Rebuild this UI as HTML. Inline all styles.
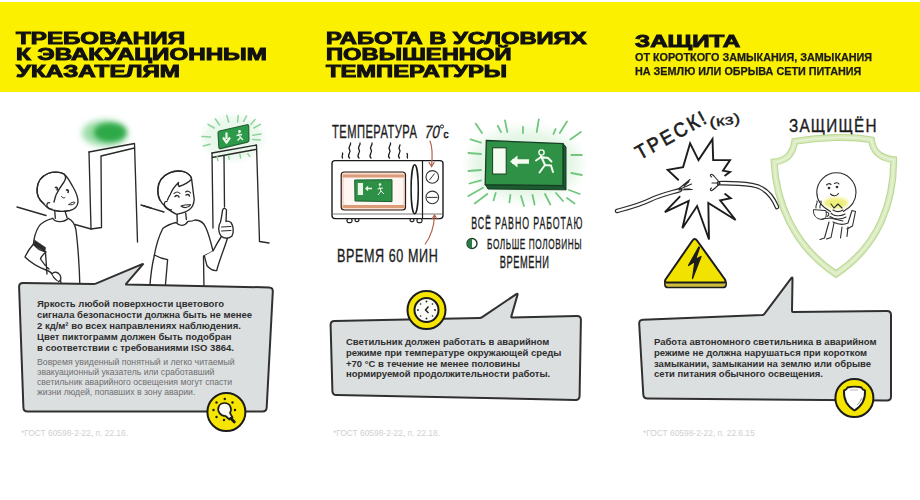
<!DOCTYPE html>
<html><head><meta charset="utf-8">
<style>
html,body{margin:0;padding:0;}
body{width:920px;height:500px;overflow:hidden;background:#fff;position:relative;font-family:"Liberation Sans",sans-serif;}
.yb{position:absolute;left:0;top:2px;width:920px;height:90px;background:#fbf000;}
.h{position:absolute;font-weight:bold;color:#111;-webkit-text-stroke:0.95px #111;white-space:nowrap;transform-origin:0 0;}
.h div{height:16.8px;line-height:16.8px;}
.sub{position:absolute;font-weight:bold;color:#1a1a1a;-webkit-text-stroke:0.25px #1a1a1a;white-space:nowrap;transform-origin:0 0;font-size:10px;}
.t{position:absolute;white-space:nowrap;transform-origin:0 0;}
.b{font-weight:bold;color:#2e2e2e;}
.g{color:#6e6e6e;}
.fn{position:absolute;white-space:nowrap;color:#d0d0d0;font-size:8.4px;}
svg{position:absolute;left:0;top:0;}
</style></head><body>
<div class="yb"></div>
<div class="h" id="h1" style="left:16px;top:30.5px;font-size:16.8px;transform:scaleX(1.44)"><div>ТРЕБОВАНИЯ</div><div>К ЭВАКУАЦИОННЫМ</div><div>УКАЗАТЕЛЯМ</div></div>
<div class="h" id="h2" style="left:326px;top:30.5px;font-size:16.8px;transform:scaleX(1.415)"><div>РАБОТА В УСЛОВИЯХ</div><div>ПОВЫШЕННОЙ</div><div>ТЕМПЕРАТУРЫ</div></div>
<div class="h" id="h3" style="left:635px;top:33.5px;font-size:16.8px;transform:scaleX(1.44)"><div>ЗАЩИТА</div></div>
<div class="sub" id="s3" style="left:635px;top:51px;line-height:13.5px;transform:scaleX(1.08)"><div>ОТ КОРОТКОГО ЗАМЫКАНИЯ, ЗАМЫКАНИЯ</div><div>НА ЗЕМЛЮ ИЛИ ОБРЫВА СЕТИ ПИТАНИЯ</div></div>

<svg width="920" height="500" viewBox="0 0 920 500" style="position:absolute;left:0;top:0">
<defs>
<filter id="bl1" x="-50%" y="-50%" width="200%" height="200%"><feGaussianBlur stdDeviation="3"/></filter>
<filter id="bl2" x="-50%" y="-50%" width="200%" height="200%"><feGaussianBlur stdDeviation="2.4"/></filter>
</defs>
<!-- PANEL 1 -->
<ellipse cx="105" cy="133" rx="23" ry="13" fill="#9adba5" filter="url(#bl1)"/>
<ellipse cx="110" cy="132.5" rx="16" ry="9.5" fill="#2fa94a" filter="url(#bl2)"/>
<g fill="none" stroke="#2a2a2a" stroke-width="1.35" stroke-linecap="round" stroke-linejoin="round">
<!-- door 1 -->
<path d="M89,152 L134.5,143.5 L137.5,242"/>
<path d="M89,152 L91,229 L101.5,227.5 L101,156 L134.5,148"/>
<path d="M17,207 L46,215.5"/>
<path d="M75,224.5 L91,229"/>
<path d="M141,205 L151,208"/>
</g>
<g fill="#fff" stroke="#2a2a2a" stroke-width="1.35" stroke-linecap="round" stroke-linejoin="round">
<!-- boy 1 body -->
<path d="M52.7,218.3 C46,220 41,222.5 38.5,227 C35.5,232 34,238 33.5,244 C30,248 27,252 25,257 C30,262 38,267 46,270 C49,271 51,272 52,274 C54,279 58,282 60.5,280 L62,290 L80,290 C79.5,270 78.5,250 76,230 C75,224 72,220 68.3,218.3 C64,223 55,222.5 52.7,218.3 Z"/>
<path d="M33.5,244 C36,248 41,251 46,252 M46,252 C43,254.5 41,257 40.5,259 C43,263 46,266.5 49,269 M45.5,253 L47,274" fill="none"/>
<path d="M34.5,240 L45.5,247.5 L45,252 L33.5,245 Z" fill="#2a2a2a" stroke-width="0.6"/>
<path d="M52,274 C54,271 58,272 60,275 C61.5,278 61,281 58.5,281.5" fill="#fff"/>
<!-- boy1 head -->
<path d="M54.7,210.5 C50,210 46,207 44,204 C39,200 36.5,195 37.1,189 C37.5,181 42,176 48,173.5 C53,171.5 60,171.5 64,174 C68,177 70,182 73,187 C76,192 78,197 78,202 C77.5,207 74,209.5 70,210.5 C65,211.5 59,211.5 54.7,210.5 Z"/>
<path d="M44,204 C39,200 36.5,195 37.1,189 C37.5,181 42,176 48,173.5 C53,171.5 60,171.5 64,174 C66,176 66,179 64,182 C61,186 58,191 56,195 C55,198 54.5,200 54,202" fill="none"/>
<path d="M49.5,202.7 C46.5,202.5 46,206 48,207.5 C49.5,209 51,209.5 52.1,209.2" fill="none"/>
<path d="M55.5,187.5 C57,187 58,188.5 57,190 M66.5,190 C68,189.5 69,191 68,192.5" fill="none" stroke-width="1.5"/>
<path d="M61.5,196.5 C62.5,198 64,198.5 65,197.5" fill="none" stroke-width="1"/>
<path d="M69,204.5 C71,202.5 73.5,201.5 75,202.5 C74,204.5 71.5,205.5 69,204.5 Z" fill="none" stroke-width="1"/>
<path d="M54.7,210.5 L55.3,218.3 M65,211.1 L67,217.5" fill="none"/>
<!-- boy 2 body -->
<path d="M176,222.5 C170,224 166,226 162.8,228.5 C159,236 156,246 154.4,255 C158,257 163,259 167.6,259.7 L165,290 L204,290 L203.5,256 C208,254 211,252.5 213,251 C211,243 209.5,236 206,228 C204,223 201,220 195,220 C193,221 190,221.5 188,221.4 C185,226 180,227 176,222.5 Z"/>
<path d="M154.4,255 C152,265 150.5,275 149.6,290" fill="none"/>
<path d="M213,251 C216,245 219,240 222.7,234.5 L227.5,238 C225,247 220,258 216.7,270.5 C213,271 209,268 207,265.7 C206,262 205,259 204.5,256" />
<path d="M220.5,222 C218,226 218,232 221,236 C224,239 229,239 232,236 C234,232 233.5,226 231,222.5 C229,221 227,221 226,221.5 L226.5,210 C225,207.5 223,208 222.5,210.5 C222,214 221.5,218 220.5,222 Z"/>
<path d="M221.5,227 L231,226.5 M221.5,231 L231,230.5" fill="none" stroke-width="1"/>
<!-- boy2 head -->
<path d="M176.6,214.4 C172,212 168,210 165,206 C161,203 158,197 157.8,189.7 C158,182 162,176 169.5,172.8 C175,170.5 182,170.5 186,172.5 C189.5,174.5 191.5,177 191.6,179.3 C192.5,185 193,191 194.2,199 C194,203 193,207 189.5,209.5 C186,212 181,213.5 176.6,214.4 Z"/>
<path d="M159.7,200 C158,197 157.8,193 157.8,189.7 C158,182 162,176 169.5,172.8 C175,170.5 182,170.5 186,172.5 C189.5,174.5 191.5,177 191.6,179.3 C188,183 184,185 179,186.5 C178,185 178,184 178.5,182.5 C175,186 172,190 170.5,194 C169,196.5 168,198.5 167.5,200" fill="none"/>
<path d="M166.9,201.4 C164,201 163.5,205 165.5,207.5 C167,209 169.5,210 171.4,209.8" fill="none"/>
<path d="M174,193.5 C176,191.8 178.5,191.8 180,193.5 M185.5,192 C187.5,190.5 189.5,191 190.5,193" fill="none" stroke-width="1.1"/>
<path d="M175,196.5 C176.5,195 178.5,195.5 179,197 M186,195 C187.5,194 189,194.5 189.5,196" fill="none" stroke-width="1.5"/>
<path d="M181,206 C184,208.5 188,208 190.5,204.8 C187.5,204.5 184,205 181,206 Z" fill="#fff" stroke-width="1.1"/>
<path d="M177,214.3 L177.3,222 M185.7,213 L186.4,219.5" fill="none"/>
<path d="M143.6,205.8 L164,212" fill="none"/>
</g>

<!-- exit sign small -->
<ellipse cx="233" cy="138" rx="30" ry="22" fill="#d9f2dc" filter="url(#bl1)" opacity="0.55"/>
<g fill="none" stroke="#2a2a2a" stroke-width="1.35" stroke-linecap="round" stroke-linejoin="round">
<!-- door 2 -->
<path d="M212,153 L256.5,145 L259.5,241.5 L269,243"/>
<path d="M212,153 L213,228 M212,157.5 L255.5,149.5 M224,156 L224.5,207"/>
</g>
<g stroke="#8ed49a" stroke-width="1.5" stroke-linecap="round">
<path d="M202,136.4 L210.6,137 M203.4,146 L210,144.2 M208,124.4 L214.2,128 M215.4,119 L219.6,125 M226.8,115.4 L228.6,122 M238.2,115.4 L237.6,122 M246.6,116 L243.6,121.4 M255,119.6 L250.8,124.4 M260.4,124.4 L253.8,128 M261,134 L252.6,135.2 M260.4,140 L252.6,139.4 M217.2,156.8 L217.8,160.4 M228.6,155.6 L229.2,159.2 M240,154.4 L240.6,158 M247.8,153.8 L249.6,156.2"/>
</g>
<path d="M219.5,131 L247,124.7 Q248.6,124.4 248.7,126 L249,140.3 Q249,141.8 247.5,142.1 L220.5,148.6 Q219,149 218.9,147.5 L218,133 Q217.9,131.4 219.5,131 Z" fill="#2d9a49" stroke="#1f5f31" stroke-width="1.1"/>
<path d="M226.5,132.5 L226.5,139 M223,137.5 L226.5,142.5 L230,137.5" stroke="#eef8ee" stroke-width="2.2" fill="none" stroke-linejoin="round"/>
<circle cx="239.5" cy="131.5" r="1.4" fill="#eef8ee"/>
<path d="M238.5,133.5 L240.5,137.5 L237.5,140.5 M240.5,137.5 L243,140 M236.5,135.5 L242,134.5" stroke="#eef8ee" stroke-width="1.3" fill="none"/>
</svg>
<svg width="920" height="500" viewBox="0 0 920 500" style="position:absolute;left:0;top:0">
<g font-family="Liberation Sans" fill="#1c1c1c" stroke="#1c1c1c" stroke-width="0.35">
<text transform="translate(332,137.5) scale(0.62,1)" font-size="18" textLength="137" lengthAdjust="spacing">ТЕМПЕРАТУРА</text>
<text transform="translate(424,137.5) skewX(-10) scale(0.62,1)" font-size="18" textLength="24" lengthAdjust="spacingAndGlyphs">70</text>
<text transform="translate(337,262.2) scale(0.7,1)" font-size="18" textLength="144" lengthAdjust="spacing">ВРЕМЯ 60 МИН</text>
<text transform="translate(471.2,228.5) scale(0.55,1)" font-size="16" textLength="202" lengthAdjust="spacing">ВСЁ РАВНО РАБОТАЮ</text>
<text transform="translate(487,248.7) scale(0.55,1)" font-size="15" textLength="172" lengthAdjust="spacing">БОЛЬШЕ ПОЛОВИНЫ</text>
<text transform="translate(499.7,267.5) scale(0.58,1)" font-size="16" textLength="85" lengthAdjust="spacing">ВРЕМЕНИ</text>
</g>
<text x="443.5" y="137.5" font-family="Liberation Sans" font-size="10" fill="#1c1c1c" stroke="#1c1c1c" stroke-width="0.5">c</text>
<circle cx="442" cy="126.5" r="1.6" fill="none" stroke="#1c1c1c" stroke-width="1"/>
<!-- half circle -->
<circle cx="472" cy="243.5" r="5" fill="#fff" stroke="#1c3a25" stroke-width="1.4"/>
<path d="M472,238.5 A5,5 0 0 0 472,248.5 Z" fill="#2b7a45"/>
<!-- steam -->
<g fill="none" stroke="#1c1c1c" stroke-width="1.3" stroke-linecap="round">
<path d="M342.5,158 C341,156 343.5,155 342.5,153"/>
<path d="M349.5,158 C346,155 352,152.5 349.5,149.5 C347.5,147 351.5,145 350.5,143"/>
<path d="M359,158 C355.5,155 361.5,152.5 359,149.5 C357,147 361,145 360,143"/>
<path d="M371,158 C367.5,155 373.5,152.5 371,149.5 C369,147 373,145 372,143"/>
<path d="M389.5,158 C386,155 392,152.5 389.5,149.5 C387.5,147 391.5,145 390.5,143"/>
<path d="M399.5,158 C396,155 402,152.5 399.5,149.5 C398,147.5 400,146 400,145"/>
<path d="M407.5,158 C406.5,156 408.5,155 407,153.5"/>
</g>
<!-- microwave -->
<rect x="332" y="160.6" width="111" height="58" rx="3" fill="#fff" stroke="#1c1c1c" stroke-width="1.4"/>
<path d="M333,214 L442,214" stroke="#555" stroke-width="0.8"/>
<path d="M422.5,161 L422.5,218" stroke="#1c1c1c" stroke-width="1.2"/>
<g fill="#fff" stroke="#1c1c1c" stroke-width="1.2">
<rect x="347" y="218.6" width="5" height="4" rx="1.5"/><rect x="355" y="218.6" width="4" height="3" rx="1.5"/>
<rect x="410" y="218.6" width="4" height="3" rx="1.5"/><rect x="417" y="218.6" width="5" height="4" rx="1.5"/>
</g>
<rect x="341.2" y="172" width="64.3" height="38" rx="3" fill="#f6ddd0" stroke="#2a1a14" stroke-width="1.2"/>
<rect x="344" y="177" width="59" height="28" rx="2" fill="#fdf6f2" stroke="none"/>
<path d="M344,176 L403,176 M344,206.5 L403,206.5" stroke="#dd9c78" stroke-width="3.2" stroke-linecap="round"/>
<polygon points="354.7,180 392,179.7 392,201.6 355,201" fill="#2e8f47" stroke="#1d5f30" stroke-width="1"/>
<rect x="357.8" y="183" width="5.2" height="12" fill="#e9f6e6"/>
<path d="M366,188.5 L372,188.5 M368,186.5 L366,188.5 L368,190.5" stroke="#e9f6e6" stroke-width="1.3" fill="none"/>
<circle cx="380" cy="184.5" r="1.3" fill="#e9f6e6"/>
<path d="M379.5,186.5 L381,191 L378,195 M381,191 L384,194 M377.5,189 L383,188" stroke="#e9f6e6" stroke-width="1" fill="none"/>
<ellipse cx="414.7" cy="189.2" rx="3.6" ry="24.5" fill="#fff" stroke="#1c1c1c" stroke-width="1.5"/>
<g fill="#fff" stroke="#333" stroke-width="1.1">
<circle cx="432.3" cy="176.9" r="6.3"/><circle cx="432.3" cy="197.4" r="6.3"/>
</g>
<path d="M429.5,180 L434.5,173.5 M427,197.4 L437.5,197.4" stroke="#333" stroke-width="1"/>
<!-- arrows -->
<g fill="none" stroke="#b3624d" stroke-width="1.2" stroke-linecap="round">
<path d="M430,141 C433,148 432.5,156 431.6,166"/>
<path d="M429,162.5 L431.6,166.5 L434,162.5"/>
<path d="M425.3,244 C431,236 434,226 434.5,216"/>
<path d="M432,219 L434.5,215 L437,219"/>
</g>
<!-- big exit sign glow -->
<defs><filter id="bl4" x="-50%" y="-50%" width="200%" height="200%"><feGaussianBlur stdDeviation="6"/></filter></defs>
<ellipse cx="525" cy="164" rx="55" ry="35" fill="#e3f5e4" filter="url(#bl4)"/>
<g stroke="#72c77f" stroke-width="1.8" stroke-linecap="round">
<path d="M475.8,123.7 L482,133 M497.8,125.8 L501,132 M505,120.5 L507.3,132 M523,126.8 L523,133 M538.8,119.5 L536.7,132 M555.6,129 L553.5,134 M567,121.5 L559.8,133 M580.8,132 L570.3,139.4 M470.5,139.4 L481,142.6 M468.4,153 L481,154 M468.4,171 L481,170 M469.5,183.5 L481,180.4 M468.4,196 L483,187.7 M474.7,203.5 L487.3,194 M571.3,155 L581.8,155 M571.3,173 L581.8,175 M569,190 L579.7,194 M567,198 L574.5,203.5 M495.7,193 L493.6,200.3 M510.4,195 L509.4,202.4 M532.5,195 L534.6,204.5 M545,194 L550.3,204.5 M521,196 L524,206 M556,193 L563,201"/>
</g>
<polygon points="485.2,184.6 563,185.6 566,189.8 488,189" fill="#1c5a30" stroke="#163f24" stroke-width="1"/>
<polygon points="563,143.6 566,147 566,189.8 563,185.6" fill="#1c5a30" stroke="#163f24" stroke-width="1"/>
<polygon points="486.3,140.5 563,143.6 563,185.6 485.2,184.6" fill="#2e9146" stroke="#163f24" stroke-width="1.3"/>
<rect x="492.6" y="147.8" width="13.6" height="26.2" fill="#f4fbf1" stroke="#163f24" stroke-width="1"/>
<path d="M512,161.5 L529,161.5" stroke="#f4fbf1" stroke-width="4.5"/>
<polygon points="510,161.5 517.5,155.5 517.5,167.5" fill="#f4fbf1"/>
<circle cx="541.5" cy="152.5" r="2.6" fill="none" stroke="#f4fbf1" stroke-width="1.4"/>
<path d="M541,156 L545,165 L539.5,172.5 M545,165 L551,165.5 L553,172 M536,160.5 L541,157 L548,158 L551.5,161.5" fill="none" stroke="#f4fbf1" stroke-width="2" stroke-linejoin="round" stroke-linecap="round"/>
</svg>
<svg width="920" height="500" viewBox="0 0 920 500" style="position:absolute;left:0;top:0">
<defs>
<filter id="bl3" x="-20%" y="-20%" width="140%" height="140%"><feGaussianBlur stdDeviation="1.5"/></filter>
</defs>
<g font-family="Liberation Sans" fill="#1c1c1c" stroke="#1c1c1c" stroke-width="0.35">
<text transform="translate(640,160) rotate(-29) scale(0.9,1)" font-size="20" textLength="86" lengthAdjust="spacing" stroke-width="0.7">ТРЕСК!</text>
<text transform="translate(710,127.5) rotate(-8)" font-size="14.5" textLength="31" lengthAdjust="spacingAndGlyphs" stroke-width="0.3">(кз)</text>
<text transform="translate(789,132) scale(0.85,1)" font-size="18" textLength="103" lengthAdjust="spacing">ЗАЩИЩЁН</text>
</g>
<!-- wires -->
<g fill="none" stroke-linecap="round" stroke-linejoin="round">
<path d="M617,211 C628,208 640,205 650,200 C660,195 670,193 680,190" stroke="#2a2a2a" stroke-width="4.6"/>
<path d="M617,211 C628,208 640,205 650,200 C660,195 670,193 680,190" stroke="#fff" stroke-width="2.2"/>
<path d="M719,183.2 C730,183 742,183.5 752,185 C765,187 772,195 777,207" stroke="#2a2a2a" stroke-width="4.6"/>
<path d="M719,183.2 C730,183 742,183.5 752,185 C765,187 772,195 777,207" stroke="#fff" stroke-width="2.2"/>
<path d="M678.5,189 L690,179.5 M679,189.5 L691.5,184 M679,190 L692.2,189.5 M684,186 L689,181.5 M684,189 L690,189" stroke="#2a2a2a" stroke-width="1.1"/>
<path d="M720,183 L714,176 C711,173 709,175 711.5,177 M720,183.5 L714,189 C711,192 709,190 711.5,188 M719,183 L712,183" stroke="#2a2a2a" stroke-width="1.1"/>
</g>
<!-- starburst -->
<path d="M678.2,179.7 L667.7,169.9 L683.1,167.1 L690.1,143.3 L698.5,160.1 L712.5,139.1 L713.2,160.1 L730,160.1 L723,170.6 L730,172 L725.1,175.5 M679.6,196.8 L664.9,212.2 L688.7,201 L682.4,228.3 L697.1,206 L709,239.5 L708.3,203 L735.6,220 L720.2,200.3 L730.7,198.2 L725.1,194" fill="none" stroke="#1c1c1c" stroke-width="1.9" stroke-linejoin="miter" stroke-linecap="round"/>
<!-- warning -->
<path d="M665.5,281.5 L725.5,281.5 Q727,283 726,285.5 Q725.5,287.5 723,287.5 L668,287.5 Q665.5,287.5 665,285.5 Q664.3,283 665.5,281.5 Z" fill="#cdbd3c" stroke="#1c1c1c" stroke-width="1.6" stroke-linejoin="round"/>
<path d="M692.5,240.5 Q694.7,237.5 697,240.5 L725,279.5 Q726.5,282.5 723.5,282.5 L667,282.5 Q664,282.5 665.5,279.5 Z" fill="#f2e200" stroke="#1c1c1c" stroke-width="2" stroke-linejoin="round"/>
<path d="M698.8,247 L688.5,265.5 L695,261.5 L692.5,278.5 L701,256.5 L695.5,259.5 L699.5,247.5 Z" fill="#1c1c1c" stroke="#1c1c1c" stroke-width="1.3" stroke-linejoin="round"/>
<!-- shield -->
<path d="M794.7,141.4 C820,137 850,136 871.5,139.9 C873,152 880,158 893.6,159.7 C894,200 880,245 836,274 C792,245 776,200 774.1,162 C786,161 793,154 794.7,141.4 Z" fill="#fff" stroke="#bcd995" stroke-width="7"/>
<path d="M794.7,141.4 C820,137 850,136 871.5,139.9 C873,152 880,158 893.6,159.7 C894,200 880,245 836,274 C792,245 776,200 774.1,162 C786,161 793,154 794.7,141.4 Z" fill="none" stroke="#d9eabd" stroke-width="4.8"/>
<path d="M794.7,141.4 C820,137 850,136 871.5,139.9 C873,152 880,158 893.6,159.7 C894,200 880,245 836,274 C792,245 776,200 774.1,162 C786,161 793,154 794.7,141.4 Z" fill="none" stroke="#e9f3da" stroke-width="1.2"/>
<!-- bulb man -->
<ellipse cx="836" cy="203" rx="12" ry="5.5" fill="#eef07a" filter="url(#bl3)"/>
<g fill="none" stroke="#2e2e2e" stroke-width="1.1" stroke-linecap="round" stroke-linejoin="round">
<path d="M830.5,211.5 C822,207 816.8,200 816.8,192.5 C816.8,181.5 825.5,172.8 836.5,172.8 C847.5,172.8 856,181.5 856,192.5 C856,200 851.5,207 843.3,211.5"/>
<path d="M826.5,185 C828,183.5 830,183.5 831,184.5 M834.5,183.5 C836,182.5 838,182.5 839,184"/>
<circle cx="829" cy="188" r="0.8" fill="#2e2e2e"/><circle cx="837" cy="187" r="0.8" fill="#2e2e2e"/>
<path d="M830.5,194 C833,196.5 836.5,196.5 838.5,193.5"/>
<path d="M831,204 L834,208 L838,204 L842,208 M833,210 C836,212 840,212 843,210"/>
<path d="M831,213 C833,216 840,217 845,214 M830,216.5 C834,219.5 841,220 846,217"/>
<path d="M813.5,210 C813,215 816,219 822,219.5 C826,219 827,215 826,211 Z" stroke-width="1"/>
<path d="M826,212 C829,212 830,215 827,216.5"/>
<path d="M816,208 C815,205 818,204 817,201 M820,208 C819,205 822,204 821,201"/>
<path d="M822,219 L830,218 L843,221"/>
<path d="M829,222 L824.5,238 L820,239.5 M834,223 L831,237.5 L826.5,239"/>
<path d="M833,222 C838,224.5 844,225 848,223 L852,210.5 L855.5,211.5 L852.5,226 L847,229"/>
<path d="M842,227 L840.5,238 M848,227 L847,236.5"/>
</g>
</svg>
<svg width="920" height="500" viewBox="0 0 920 500">
<g fill="#dcdfe0" stroke="#303030" stroke-width="2" stroke-linejoin="round">
<path d="M19.1,287.0 Q19.0,283.0 23.0,283.1 L93.5,284.0 Q95.0,284.0 96.4,283.4 L142.2,264.2 Q143.6,263.6 142.6,264.7 L126.3,283.7 Q125.6,284.5 126.6,284.5 L269.0,287.4 Q273.0,287.5 272.8,291.5 L266.7,407.5 Q266.5,411.5 262.5,411.5 L27.5,411.5 Q23.5,411.5 23.4,407.5 Z"/>
<path d="M330.6,325.0 Q330.5,321.0 334.5,320.9 L479.5,318.0 Q481.0,318.0 482.2,317.2 L516.3,294.1 Q518.0,293.0 517.5,294.9 L511.3,316.5 Q511.0,317.5 512.0,317.5 L577.0,316.1 Q581.0,316.0 580.9,320.0 L579.6,396.0 Q579.5,400.0 575.5,399.9 L336.5,395.1 Q332.5,395.0 332.4,391.0 Z"/>
<path d="M639.2,324.0 Q639.0,320.0 643.0,319.8 L762.0,315.1 Q763.5,315.0 764.4,313.8 L791.3,278.1 Q792.5,276.5 792.5,278.5 L792.0,311.0 Q792.0,312.0 793.0,312.0 L887.0,311.0 Q891.0,311.0 891.0,315.0 L891.0,396.5 Q891.0,400.5 887.0,400.5 L647.5,398.5 Q643.5,398.5 643.3,394.5 Z"/>
</g>
</svg><svg width="920" height="500" viewBox="0 0 920 500" style="position:absolute;left:0;top:0">
<!-- bulb icon -->
<circle cx="226.4" cy="412" r="19" fill="#f5e500" stroke="#1c1c1c" stroke-width="2"/>
<g fill="#1c1c1c">
<circle cx="224.8" cy="399" r="1.2"/><circle cx="216.5" cy="402.5" r="1.2"/><circle cx="232.5" cy="402.5" r="1.2"/>
<circle cx="213.5" cy="410" r="1.2"/><circle cx="235" cy="410" r="1.2"/><circle cx="216.5" cy="417" r="1.2"/><circle cx="224" cy="420" r="1.2"/>
</g>
<path d="M219.5,413 C216.5,408.5 219,403 224.5,403 C230,403 232.5,408.5 230,413 L232.5,417.5 L229.5,419.5 L225.5,416 C222.5,416 220.5,414.5 219.5,413 Z" fill="#fbfbf6" stroke="#1c1c1c" stroke-width="1.7" stroke-linejoin="round"/>
<path d="M230.8,418.3 L234.2,421.8" stroke="#1c1c1c" stroke-width="3" stroke-linecap="round"/>
<!-- clock -->
<circle cx="426.5" cy="310" r="19" fill="#f5e500" stroke="#1c1c1c" stroke-width="2"/>
<circle cx="426.5" cy="310" r="12" fill="#fbfbf8" stroke="#1c1c1c" stroke-width="2"/>
<g fill="#1c1c1c">
<circle cx="426.5" cy="301.5" r="0.9"/><circle cx="426.5" cy="318.5" r="0.9"/><circle cx="418" cy="310" r="0.9"/><circle cx="435" cy="310" r="0.9"/>
<circle cx="420.5" cy="304" r="0.8"/><circle cx="432.5" cy="304" r="0.8"/><circle cx="420.5" cy="316" r="0.8"/><circle cx="432.5" cy="316" r="0.8"/>
</g>
<path d="M428.5,306.5 L425.5,310 L428.5,313" fill="none" stroke="#1c1c1c" stroke-width="1.4"/>
<!-- shield icon -->
<circle cx="854.4" cy="398" r="19" fill="#f5e500" stroke="#1c1c1c" stroke-width="2"/>
<path d="M847.5,387.5 C851,386.5 858,386.5 861.5,387.5 C862,389 863.5,390 865,390.5 C865.5,399 862,406 854.4,410.5 C847,406 843.5,399 844,390.5 C845.5,390 847,389 847.5,387.5 Z" fill="#fff" stroke="#1c1c1c" stroke-width="1.9" stroke-linejoin="round"/>
<path d="M857,405 C859.5,403 861,400.5 861.5,398" stroke="#888" stroke-width="0.9" fill="none"/>
<path d="M850,390 L858,390" stroke="#aaa" stroke-width="0.8"/>
</svg>


<div class="t b" style="left:37px;top:298px;font-size:9.5px;line-height:11.1px">
<div>Яркость любой поверхности цветового</div>
<div>сигнала безопасности должна быть не менее</div>
<div>2 кд/м² во всех направлениях наблюдения.</div>
<div>Цвет пиктограмм должен быть подобран</div>
<div>в соответствии с требованиями ISO 3864.</div>
</div>
<div class="t g" style="left:37px;top:358px;font-size:8.7px;line-height:9.9px">
<div>Вовремя увиденный понятный и легко читаемый</div>
<div>эвакуационный указатель или сработавший</div>
<div>светильник аварийного освещения могут спасти</div>
<div>жизни людей, попавших в зону аварии.</div>
</div>
<div class="t b" style="left:346px;top:337px;font-size:9.5px;line-height:10.8px">
<div>Светильник должен работать в аварийном</div>
<div>режиме при температуре окружающей среды</div>
<div>+70 °C в течение не менее половины</div>
<div>нормируемой продолжительности работы.</div>
</div>
<div class="t b" style="left:654px;top:337px;font-size:9.5px;line-height:10.8px">
<div>Работа автономного светильника в аварийном</div>
<div>режиме не должна нарушаться при коротком</div>
<div>замыкании, замыкании на землю или обрыве</div>
<div>сети питания обычного освещения.</div>
</div>
<div class="fn" style="left:21px;top:428px">*ГОСТ 60598-2-22, п. 22.16.</div>
<div class="fn" style="left:333px;top:428px">*ГОСТ 60598-2-22, п. 22.18.</div>
<div class="fn" style="left:643px;top:428px">*ГОСТ 60598-2-22, п. 22.6.15</div>

</body></html>
